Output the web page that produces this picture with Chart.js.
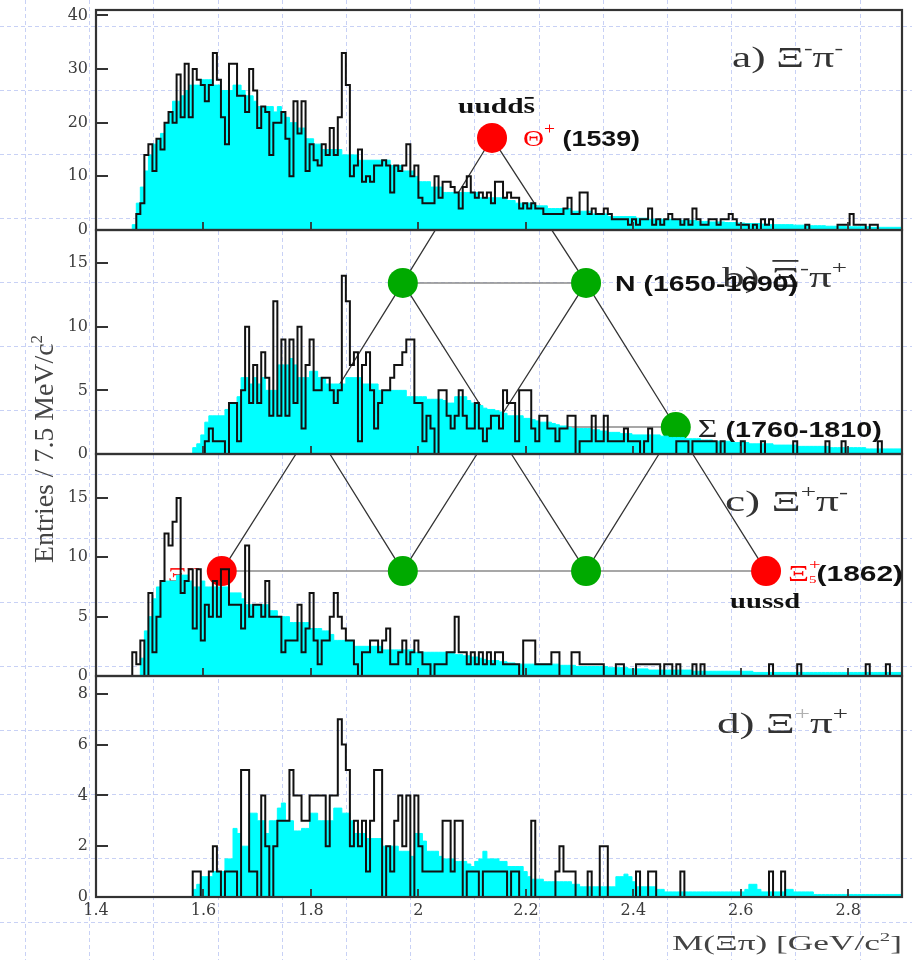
<!DOCTYPE html>
<html>
<head>
<meta charset="utf-8">
<script src="https://cdn.jsdelivr.net/npm/chart.js@4.4.1/dist/chart.umd.min.js"></script>
<style>
  html, body { margin: 0; padding: 0; background: #fff; }
  canvas { display: block; }
</style>
</head>
<body>
<canvas id="marksChart" width="912" height="960"></canvas>
<script>
// bins of 7.5 MeV from 1.4 to 2.9 GeV
let binStart = 1.4;
let binWidth = 0.0075;

// a) Xi- pi-
let aData = [
  0,0,0,0,0,0,0,0,0,0, 3,5,14,16,11,17,15,20,22,20, 29,21,31,21,30,28,27,24,27,33, 28,21,16,31,31,25,25,22,30,26,
  19,23,22,14,20,20,22,17,10,24, 18,24,11,16,13,12,16,14,19,14, 21,33,27,10,12,15,9,10,9,12, 12,13,12,7,12,11,12,16,10,12,
  6,5,5,5,10,6,9,9,8,7, 4,8,10,7,6,7,6,7,5,9, 9,6,7,6,6,4,5,4,5,4, 4,3,3,3,3,3,4,6,3,3,
  7,7,3,4,3,3,4,3,2,2, 2,2,1,2,1,2,2,4,1,2, 1,2,3,2,2,1,2,1,4,2, 1,1,2,2,1,2,2,3,2,1,
  1,1,0,1,0,2,1,2,0,0, 0,0,0,0,0,0,1,0,0,0, 0,0,0,0,1,1,1,3,1,1, 1,0,1,1,0,0,0,0,0,0
];
let aMixed = [
  0,0,0,0,0,0,0,0,0,1, 5,8,11,14,16,17,18,20,22,24, 24,25,26,27,27,27,28,28,28,27, 27,26,26,26,27,27,26,25,25,24,
  23,23,23,23,22,23,22,21,20,20, 19,19,17,17,16,16,15,15,15,15, 15,14,14,14,14,13,13,13,13,13, 13,13,13,12,12,12,11,11,11,10,
  9,9,9,8,8,8,7,7,7,7, 7,7,7,7,7,6,6,6,6,6, 6,6,5.5,5.5,5,5,5,5,5,4.5, 4.5,4.5,4,4,4,4,4,4,3.5,3.5,
  3.5,3.5,3.5,3,3,3,3,2.5,2.5,2.5, 2.5,2.5,2.5,2.5,2.2,2.2,2.2,2,2,2, 2,2,2,1.8,1.8,1.8,1.8,1.8,1.8,1.6, 1.6,1.6,1.5,1.5,1.5,1.5,1.4,1.4,1.4,1.3,
  1.3,1.2,1.2,1.2,1.2,1.1,1.1,1,1,1, 1,1,1,0.9,0.9,0.9,0.8,0.8,0.8,0.8, 0.8,0.7,0.7,0.7,0.7,0.7,0.6,0.6,0.6,0.6, 0.6,0.6,0.5,0.5,0.5,0.5,0.5,0.5,0.5,0.5
];

// b) Xi- pi+
let bData = [
  0,0,0,0,0,0,0,0,0,0, 0,0,0,0,0,0,0,0,0,0, 0,0,0,0,0,0,0,1,2,1, 1,1,0,4,4,1,5,10,4,7,
  4,8,6,3,12,3,9,3,9,4, 10,2,7,9,5,5,6,6,5,4, 5,14,12,7,8,1,7,8,5,2, 4,5,5,6,7,7,8,9,9,4,
  4,1,3,2,0,5,5,3,2,3, 5,3,2,2,4,2,1,2,3,3, 2,5,4,4,1,5,5,5,2,1, 3,3,2,2,1,2,2,3,3,0,
  1,1,1,3,1,1,3,1,1,1, 1,2,1,1,1,0,1,2,0,0, 0,0,0,0,1,1,1,0,1,1, 1,1,1,1,0,1,0,0,0,0,
  1,0,0,0,0,1,0,0,0,0, 0,0,0,1,0,0,0,0,0,0, 0,1,0,0,0,1,0,0,0,0, 0,0,0,0,1,0,0,0,0,0
];
let bMixed = [
  0,0,0,0,0,0,0,0,0,0, 0,0,0,0,0,0,0,0,0,0, 0,0,0,0,0.5,0.8,1.5,2.5,3,3, 3,3,3.5,4,4,4.5,6,6,5.5,6,
  5.5,6,5,5,5,7,7,7,7.5,7, 6,6,6,6.5,6.5,6,6,5.5,5.5,5.5, 5.5,5.5,6,6,6,6,5.5,5.5,5.5,5.5, 5,5,5,5,5,5,5,4.5,4.5,4.5,
  4.5,4.5,4.3,4.3,4.3,4.3,4.2,4,4,4.5, 4.5,4.5,4.2,4,4,3.8,3.6,3.5,3.5,3.4, 3.3,3.2,3,3,3,3,2.8,2.8,2.7,2.6, 2.5,2.5,2.5,2.4,2.3,2.2,2.2,2.1,2,2,
  2,2,2,1.9,1.9,1.8,1.8,1.7,1.7,1.7, 1.6,1.6,1.6,1.5,1.5,1.5,1.5,1.5,1.5,1.5, 1.4,1.4,1.3,1.3,1.3,1.3,1.2,1.2,1.2,1.2, 1.1,1.1,1.1,1,1,1,1,1,0.9,0.9,
  0.9,0.9,0.8,0.8,0.8,0.8,0.8,0.8,0.7,0.7, 0.7,0.7,0.7,0.7,0.6,0.6,0.6,0.6,0.6,0.6, 0.6,0.6,0.5,0.5,0.5,0.5,0.5,0.5,0.5,0.5, 0.5,0.4,0.4,0.4,0.4,0.4,0.4,0.4,0.4,0.4
];

// c) Xi+ pi-
let cData = [
  0,0,0,0,0,0,0,0,0,2, 1,3,0,7,2,5,8,12,11,13, 15,7,8,9,4,9,3,6,5,8, 5,9,9,6,6,6,4,11,5,6,
  6,5,8,5,5,5,2,3,3,3, 6,2,4,7,3,1,3,3,5,7, 5,4,3,3,1,0,2,2,3,3, 2,3,4,1,1,2,3,1,2,3,
  2,1,1,0,1,1,1,2,2,5, 2,2,1,2,1,2,1,2,1,2, 2,1,1,1,1,0,3,3,3,1, 1,1,1,2,2,0,0,0,2,2,
  1,1,1,1,1,1,0,0,0,1, 1,0,0,0,1,1,1,1,1,1, 0,1,1,0,1,0,0,0,1,0, 1,0,0,0,0,0,0,0,0,0,
  0,0,0,0,0,0,0,1,0,0, 0,0,0,0,1,0,0,0,0,0, 0,0,0,0,0,0,0,0,0,0, 0,1,0,0,0,0,1,0,0,0
];
let cMixed = [
  0,0,0,0,0,0,0,0,0,0, 0,1.5,3.8,5,6.5,7.5,8,8,8,8, 8.5,8.5,8.5,8,7.5,7.5,8,7.5,7.5,7.5, 7.5,7.5,7.5,7,7,7,6.5,6,6,6,
  6,6,6,5.5,5.5,5,5,5,4.5,4.5, 4.5,4.5,4.5,4,4,4,3.8,3.8,3.5,3, 3,3,3,3,2.5,2.5,2.5,2.5,2.5,2.5, 2.5,2.2,2.2,2.2,2.2,2.2,2.2,2.2,2.2,2,
  2,2,2,2,2,2,2,2,2,1.8, 1.8,1.7,1.7,1.6,1.6,1.5,1.4,1.3,1.3,1.3, 1.2,1.2,1.1,1.1,1,1,1,1,1,1, 1,1,1,1,1,0.9,0.9,0.9,0.9,0.8,
  0.8,0.8,0.8,0.8,0.8,0.8,0.8,0.7,0.7,0.7, 0.7,0.7,0.6,0.6,0.6,0.6,0.6,0.5,0.5,0.5, 0.5,0.5,0.5,0.5,0.5,0.5,0.5,0.5,0.4,0.4, 0.4,0.4,0.4,0.4,0.4,0.4,0.4,0.4,0.4,0.4,
  0.4,0.4,0.4,0.3,0.3,0.3,0.3,0.3,0.3,0.3, 0.3,0.3,0.3,0.3,0.3,0.3,0.3,0.3,0.3,0.3, 0.3,0.3,0.3,0.3,0.3,0.3,0.3,0.3,0.3,0.3, 0.3,0.3,0.3,0.3,0.3,0.3,0.3,0.3,0.3,0.3
];

// d) Xi+ pi+
let dData = [
  0,0,0,0,0,0,0,0,0,0, 0,0,0,0,0,0,0,0,0,0, 0,0,0,0,1,1,0,0,1,2, 1,0,1,1,1,0,5,5,1,1,
  0,4,2,0,2,3,3,3,5,4, 4,3,3,4,4,4,4,2,4,4, 7,6,5,2,3,2,3,1,3,5, 5,0,2,1,3,4,2,4,0,4,
  2,1,1,1,1,1,3,3,1,3, 3,0,1,1,1,0,1,1,1,1, 1,1,0,1,1,0,0,0,3,0, 0,0,0,0,1,2,1,1,1,0,
  0,0,1,0,0,2,2,0,0,0, 0,0,0,0,1,0,0,1,1,0, 0,0,0,0,0,1,0,0,0,0, 0,0,0,0,0,0,0,0,0,0,
  0,0,0,0,0,0,0,1,0,0, 1,0,0,0,0,0,0,0,0,0, 0,0,0,0,0,0,0,0,0,0, 0,0,0,0,0,0,0,0,0,0
];
let dMixed = [
  0,0,0,0,0,0,0,0,0,0, 0,0,0,0,0,0,0,0,0,0, 0,0,0,0,0.3,0.5,0.8,0.8,0.8,1, 1,1,1.5,1.5,2.7,2.5,2,2,3.3,3.3,
  3,3,2.5,3,3,3.5,3.7,3,3,2.6, 2.6,2.7,2.7,3.3,3.3,3,3,3,3,3.5, 3.5,3.3,3.3,3,2.5,2.5,2.5,2.3,2.3,2.3, 2.3,2,2,2,2,1.8,1.8,1.8,1.6,2.5,
  2.5,2.2,1.8,1.8,1.8,1.6,1.5,1.5,1.5,1.4, 1.4,1.4,1.3,1.2,1.4,1.5,1.8,1.5,1.5,1.5, 1.4,1.4,1.2,1.2,1.2,1.2,1,0.8,0.7,0.7, 0.7,0.6,0.6,0.6,0.6,0.6,0.6,0.6,0.5,0.5,
  0.4,0.4,0.4,0.4,0.4,0.4,0.4,0.4,0.4,0.8, 0.8,0.9,0.8,0.6,0.4,0.4,0.4,0.4,0.4,0.3, 0.3,0.2,0.2,0.2,0.2,0.2,0.2,0.2,0.2,0.2, 0.2,0.2,0.2,0.2,0.2,0.2,0.2,0.2,0.2,0.2,
  0.2,0.3,0.5,0.5,0.3,0.2,0.2,0.2,0.2,0.2, 0.2,0.3,0.3,0.2,0.2,0.2,0.2,0.2,0.1,0.1, 0.1,0.1,0.1,0.1,0.1,0.1,0.1,0.1,0.1,0.1, 0.1,0.1,0.1,0.1,0.1,0.1,0.1,0.1,0.1,0.1
];

// y ranges of the four panels (entries)
let panelMax = [41, 17.6, 18.7, 8.7];
let panelStep = [10, 5, 5, 2];

// antidecuplet sketch: [panel axis, mass, entries]
let nodes = {
  theta: ['yA', 2.137, 17.15],
  n1: ['yB', 1.971, 13.44], n2: ['yB', 2.312, 13.44],
  s1: ['yB', 1.804, 2.12], s2: ['yB', 2.141, 2.12], s3: ['yB', 2.479, 2.12],
  x1: ['yC', 1.634, 8.84], x2: ['yC', 1.971, 8.84], x3: ['yC', 2.312, 8.84], x4: ['yC', 2.647, 8.84]
};
let edges = [
  ['theta', 'n1'], ['theta', 'n2'], ['n1', 's1'], ['n1', 's2'], ['n2', 's2'], ['n2', 's3'],
  ['s1', 'x1'], ['s1', 'x2'], ['s2', 'x2'], ['s2', 'x3'], ['s3', 'x3'], ['s3', 'x4']
];
let rows = [['n1', 'n2'], ['s1', 's3'], ['x1', 'x4']];
let redNodes = ['theta', 'x1', 'x4'];

function histPoints(values) {
    let pts = values.map((v, i) => ({ x: binStart + binWidth * i, y: v }));
    pts.push({ x: binStart + binWidth * values.length, y: values[values.length - 1] });
    return pts;
}

function dataLine(values, axis) {
    return {
        data: histPoints(values), yAxisID: axis, stepped: true, pointRadius: 0,
        borderColor: '#111', borderWidth: 2, fill: false, order: 0
    };
}

function mixedFill(values, axis) {
    return {
        data: histPoints(values), yAxisID: axis, stepped: true, pointRadius: 0,
        borderColor: '#00ffff', borderWidth: 1, backgroundColor: '#00ffff', fill: 'origin', order: 1
    };
}

let tickFont = { family: 'DejaVu Serif', size: 16 };

function noPadding(s) {
    s.paddingTop = 0;
    s.paddingBottom = 0;
    s.paddingLeft = 0;
    s.paddingRight = 0;
}

function panelAxis(i, weight, height) {
    return {
        type: 'linear', position: 'left', stack: 'panels', stackWeight: height, weight: weight,
        min: 0, max: panelMax[i],
        border: { display: false },
        grid: { display: false, drawTicks: false },
        ticks: { stepSize: panelStep[i], includeBounds: false, padding: 8, color: '#3c3c3c', font: tickFont },
        afterFit: s => { s.width = 96; noPadding(s); }
    };
}

const SERIF = 'Liberation Serif';
const SANS = 'Liberation Sans';

function richText(ctx, x, y, runs, width) {
    ctx.save();
    let total = 0;
    runs.forEach(r => {
        ctx.font = r.font;
        r.w = ctx.measureText(r.t).width;
        if (r.adv !== false) total += r.w;
    });
    let sx = width ? width / total : 1;
    ctx.translate(x, y);
    ctx.scale(sx, 1);
    ctx.textAlign = 'left';
    ctx.textBaseline = 'alphabetic';
    let cx = 0;
    runs.forEach(r => {
        ctx.font = r.font;
        ctx.fillStyle = r.color || '#333';
        ctx.fillText(r.t, cx, r.dy || 0);
        if (r.bar) ctx.fillRect(cx + 1, (r.dy || 0) - r.bar, r.w - 2, 1.8);
        if (r.adv !== false) cx += r.w;
    });
    ctx.restore();
}

function panelLabel(letter, sup1, sup2, bar, sup1Color) {
    let big = '30px ' + SERIF, small = '18px ' + SERIF;
    return [
        { t: letter + ') ', font: big },
        { t: 'Ξ', font: big, bar: bar },
        { t: sup1, font: small, dy: -13, color: sup1Color },
        { t: 'π', font: big },
        { t: sup2, font: small, dy: -13 }
    ];
}

let decor = {
    id: 'decor',
    beforeDraw(chart) {
        let ctx = chart.ctx;
        ctx.save();
        ctx.fillStyle = '#fff';
        ctx.fillRect(0, 0, chart.width, chart.height);
        ctx.strokeStyle = '#c8d1f5';
        ctx.lineWidth = 1;
        ctx.setLineDash([4, 3]);
        ctx.beginPath();
        for (let gx = 25; gx < chart.width; gx += 64.2) {
            ctx.moveTo(Math.round(gx) + 0.5, 0);
            ctx.lineTo(Math.round(gx) + 0.5, chart.height);
        }
        for (let gy = 26; gy < chart.height; gy += 64) {
            ctx.moveTo(0, Math.round(gy) + 0.5);
            ctx.lineTo(chart.width, Math.round(gy) + 0.5);
        }
        ctx.stroke();
        ctx.restore();
    },
    beforeDatasetsDraw(chart) {
        let ctx = chart.ctx;
        let x = chart.scales.x;
        let pos = {};
        for (let k in nodes) {
            let n = nodes[k];
            pos[k] = [x.getPixelForValue(n[1]), chart.scales[n[0]].getPixelForValue(n[2])];
        }
        chart.$nodes = pos;
        ctx.save();
        ctx.strokeStyle = '#8a8a8a';
        ctx.lineWidth = 1.6;
        ctx.beginPath();
        rows.forEach(r => { ctx.moveTo(pos[r[0]][0], pos[r[0]][1]); ctx.lineTo(pos[r[1]][0], pos[r[1]][1]); });
        ctx.stroke();
        ctx.strokeStyle = '#333';
        ctx.lineWidth = 1.3;
        ctx.beginPath();
        edges.forEach(e => { ctx.moveTo(pos[e[0]][0], pos[e[0]][1]); ctx.lineTo(pos[e[1]][0], pos[e[1]][1]); });
        ctx.stroke();
        for (let k in pos) {
            ctx.fillStyle = redNodes.includes(k) ? '#ff0000' : '#00aa00';
            ctx.beginPath();
            ctx.arc(pos[k][0], pos[k][1], 15, 0, Math.PI * 2);
            ctx.fill();
        }
        let p = pos.x1;
        richText(ctx, p[0] - 54, p[1] + 11, [
            { t: 'Ξ', font: '22px ' + SERIF, color: '#ff2020' },
            { t: '--', font: '14px ' + SERIF, dy: -10, color: '#ff2020' }
        ], 32);
        ctx.restore();
    },
    afterDatasetsDraw(chart) {
        let ctx = chart.ctx;
        let x = chart.scales.x;
        let panels = ['yA', 'yB', 'yC', 'yD'].map(id => chart.scales[id]);
        ctx.save();
        // ticks
        ctx.strokeStyle = '#333';
        ctx.lineWidth = 1.8;
        ctx.beginPath();
        panels.forEach(ys => {
            ys.ticks.forEach(t => {
                let py = Math.round(ys.getPixelForValue(t.value));
                ctx.moveTo(x.left, py);
                ctx.lineTo(x.left + 12, py);
            });
            x.ticks.forEach(t => {
                let px = Math.round(x.getPixelForValue(t.value));
                ctx.moveTo(px, ys.bottom);
                ctx.lineTo(px, ys.bottom - 8);
            });
        });
        ctx.stroke();
        // frames
        ctx.lineWidth = 2.2;
        panels.forEach(ys => {
            ctx.strokeRect(x.left, ys.top, x.right - x.left, ys.bottom - ys.top);
        });

        // panel labels
        let labels = [
            [panelLabel('a', '-', '-', 0), 732, 111],
            [panelLabel('b', '-', '+', 27), 722, 125],
            [panelLabel('c', '+', '-', 0), 725, 123],
            [panelLabel('d', '+', '+', 0, '#b0b0b0'), 717, 131]
        ];
        labels.forEach((l, i) => richText(ctx, l[1], panels[i].top + 57, l[0], l[2]));

        // sketch labels
        let pos = chart.$nodes;
        let bold = 'bold 22px ' + SANS;
        let t = pos.theta;
        richText(ctx, t[0] - 34, t[1] - 25, [
            { t: 'uudd', font: 'bold 22px ' + SERIF, color: '#111' },
            { t: 's', font: 'bold 22px ' + SERIF, color: '#111', bar: 16 }
        ], 77);
        richText(ctx, t[0] + 31, t[1] + 8, [
            { t: 'Θ', font: '24px ' + SERIF, color: '#ff0000' },
            { t: '+', font: '16px ' + SERIF, dy: -12, color: '#ff0000' },
            { t: ' (1539)', font: bold, color: '#111' }
        ], 117);
        let n = pos.n2;
        richText(ctx, n[0] + 29, n[1] + 8, [{ t: 'N (1650-1690)', font: bold, color: '#111' }], 183);
        let s = pos.s3;
        richText(ctx, s[0] + 22, s[1] + 10, [
            { t: 'Σ', font: '26px ' + SERIF, color: '#222' },
            { t: ' (1760-1810)', font: bold, color: '#111' }
        ], 184);
        let q = pos.x4;
        richText(ctx, q[0] + 22, q[1] + 10, [
            { t: 'Ξ', font: '24px ' + SERIF, color: '#ff0000' },
            { t: '+', font: '15px ' + SERIF, dy: -12, color: '#ff0000', adv: false },
            { t: '5', font: '11px ' + SERIF, dy: 2, color: '#ff0000' },
            { t: '(1862)', font: bold, color: '#111' }
        ], 115);
        richText(ctx, q[0] - 36, q[1] + 37, [{ t: 'uussd', font: 'bold 22px ' + SERIF, color: '#111' }], 70);

        // axis titles
        richText(ctx, 672, 950, [
            { t: 'M(Ξπ) [GeV/c', font: '22px ' + SERIF, color: '#444' },
            { t: '2', font: '13px ' + SERIF, dy: -9, color: '#444' },
            { t: ']', font: '22px ' + SERIF, color: '#444' }
        ], 230);
        ctx.save();
        ctx.translate(53, 563);
        ctx.rotate(-Math.PI / 2);
        richText(ctx, 0, 0, [
            { t: 'Entries / 7.5 MeV/c', font: '28px ' + SERIF, color: '#444' },
            { t: '2', font: '17px ' + SERIF, dy: -11, color: '#444' }
        ], 228);
        ctx.restore();
        ctx.restore();
    }
};

let marksCanvas = document.getElementById('marksChart');

let histChart = new Chart(marksCanvas, {
    type: 'line',
    data: {
        datasets: [
            dataLine(aData, 'yA'), dataLine(bData, 'yB'), dataLine(cData, 'yC'), dataLine(dData, 'yD'),
            mixedFill(aMixed, 'yA'), mixedFill(bMixed, 'yB'), mixedFill(cMixed, 'yC'), mixedFill(dMixed, 'yD')
        ]
    },
    options: {
        responsive: false,
        animation: false,
        events: [],
        layout: { padding: { top: 10, right: 10, left: 0, bottom: 0 } },
        plugins: { legend: { display: false }, tooltip: { enabled: false } },
        scales: {
            x: {
                type: 'linear', min: 1.4, max: 2.9,
                border: { display: false },
                grid: { display: false, drawTicks: false },
                ticks: {
                    stepSize: 0.2, includeBounds: false, autoSkip: false, maxRotation: 0, padding: 4,
                    color: '#3c3c3c', font: tickFont,
                    callback: v => String(Math.round(v * 10) / 10)
                },
                afterFit: s => { s.height = 63; noPadding(s); }
            },
            yA: panelAxis(0, 4, 220),
            yB: panelAxis(1, 3, 224),
            yC: panelAxis(2, 2, 222),
            yD: panelAxis(3, 1, 221)
        }
    },
    plugins: [decor]
});
</script>
</body>
</html>
